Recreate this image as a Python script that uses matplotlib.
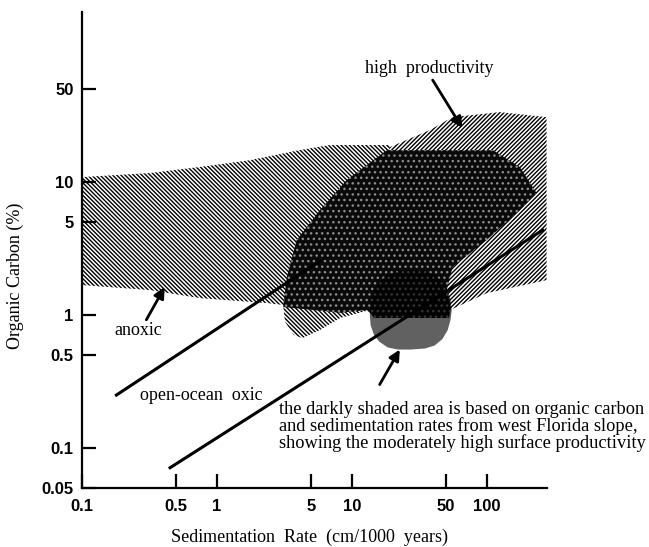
import matplotlib
matplotlib.use('Agg')
import matplotlib.pyplot as plt
from matplotlib.patches import Polygon

# tick values
x_ticks = [0.1, 0.5, 1, 5, 10, 50, 100]
x_tick_labels = ['0.1', '0.5', '1', '5', '10', '50', '100']
y_ticks = [0.05, 0.1, 0.5, 1, 5, 10, 50]
y_tick_labels = ['0.05', '0.1', '0.5', '1', '5', '10', '50']

# anoxic field (sed. rate, organic carbon %)
anoxic_x = [0.1, 0.32, 0.75, 1.75, 4.1, 6.9, 19, 32, 22.7, 13.6, 8.2, 5.8, 4.3, 3.7, 3.2, 3.1, 2.35, 0.75, 0.32, 0.1]
anoxic_y = [10.9, 11.7, 13.0, 14.6, 17.4, 19.0, 19.0, 7.3, 1.54, 1.09, 0.95, 0.77, 0.67, 0.71, 0.89, 1.19, 1.23, 1.34, 1.54, 1.68]

# high productivity field
hp_x = [19.1, 37.8, 56, 125, 278, 278, 100, 60, 48.8, 31.9, 22.7, 16.1]
hp_y = [18.3, 24.6, 30.8, 33.6, 30.8, 1.83, 1.46, 1.15, 1.05, 1.30, 3.08, 12.3]

# stippled core of high productivity
core_x = [18.2, 111, 176, 234, 176, 100, 56, 50.5, 53, 54, 52.5, 14.6, 13.9, 12.9, 8.2, 3.1, 3.3, 3.9, 5.8, 9.2]
core_y = [17.4, 17.4, 13.0, 8.3, 6.15, 3.66, 2.30, 1.54, 1.3, 1.09, 0.95, 0.95, 1.02, 1.09, 1.04, 1.15, 1.93, 3.66, 6.15, 10.4]

# west Florida slope (darkly shaded area)
florida_x = [27.4, 35, 41.2, 47, 51.4, 54, 55.1, 54, 51.4, 47, 41.2, 35, 27.4, 22, 18.5, 16, 14.6, 13.8, 13.6, 13.8, 14.6, 16, 18.5, 22]
florida_y = [2.18, 2.15, 2.0, 1.8, 1.54, 1.3, 1.09, 0.92, 0.77, 0.66, 0.59, 0.56, 0.55, 0.55, 0.57, 0.63, 0.71, 0.84, 1.0, 1.25, 1.54, 1.8, 2.0, 2.13]

# boundary lines
line1_x = [0.18, 5.8]
line1_y = [0.25, 2.55]
line2_x = [0.45, 260]
line2_y = [0.071, 4.35]

plt.rcParams['hatch.linewidth'] = 1.0
serif = 'Liberation Serif'

fig = plt.figure(figsize=(6.49, 5.47), dpi=100)
ax = fig.add_axes([0.1263, 0.1079, 0.7165, 0.870])
ax.set_xscale('log')
ax.set_yscale('log')
ax.set_xlim(0.1, 280)
ax.set_ylim(0.05, 190)

ax.add_patch(Polygon(list(zip(anoxic_x, anoxic_y)), closed=True, facecolor='white',
                     edgecolor='black', hatch='\\' * 8, linewidth=0, zorder=1))
ax.add_patch(Polygon(list(zip(hp_x, hp_y)), closed=True, facecolor='white',
                     edgecolor='black', hatch='/' * 8, linewidth=0, zorder=1.1))
ax.add_patch(Polygon(list(zip(core_x, core_y)), closed=True, facecolor='#0a0a0a',
                     edgecolor='#8c8c8c', hatch='...', linewidth=0, zorder=1.2))
ax.add_patch(Polygon(list(zip(florida_x, florida_y)), closed=True, facecolor='black',
                     alpha=0.62, linewidth=0, zorder=1.3))

ax.plot(line1_x, line1_y, color='black', lw=2.2, zorder=2)
ax.plot(line2_x, line2_y, color='black', lw=2.2, zorder=2)

arrow = dict(arrowstyle='-|>', color='black', lw=2, mutation_scale=16, shrinkA=0, shrinkB=0)
ax.annotate('', xy=(66, 25.5), xytext=(39.8, 58.5), arrowprops=arrow, zorder=3)
ax.annotate('', xy=(0.41, 1.62), xytext=(0.30, 0.92), arrowprops=arrow, zorder=3)
ax.annotate('', xy=(22.7, 0.55), xytext=(16.1, 0.30), arrowprops=arrow, zorder=3)

ax.text(37.8, 72, 'high  productivity', family=serif, fontsize=13,
        ha='center', va='center')
ax.text(0.26, 0.77, 'anoxic', family=serif, fontsize=13,
        ha='center', va='center')
ax.text(0.77, 0.25, 'open-ocean  oxic', family=serif, fontsize=13,
        ha='center', va='center')
ax.text(2.88, 0.146, 'the darkly shaded area is based on organic carbon\n'
        'and sedimentation rates from west Florida slope,\n'
        'showing the moderately high surface productivity',
        family=serif, fontsize=13.2, ha='left', va='center', linespacing=0.93,
        clip_on=False)

for s in ['top', 'right']:
    ax.spines[s].set_visible(False)
for s in ['left', 'bottom']:
    ax.spines[s].set_linewidth(1.6)

ax.minorticks_off()
ax.set_xticks(x_ticks)
ax.set_xticklabels(x_tick_labels)
ax.set_yticks(y_ticks)
ax.set_yticklabels(y_tick_labels)
ax.tick_params(direction='in', length=10, width=1.6, labelsize=12)
ax.tick_params(axis='x', pad=8)
ax.tick_params(axis='y', pad=6)
for lab in ax.get_xticklabels() + ax.get_yticklabels():
    lab.set_fontweight('bold')
    lab.set_family('Liberation Sans')

fig.text(0.023, 0.495, 'Organic Carbon (%)', family=serif, fontsize=13,
         rotation=90, ha='center', va='center')
fig.text(0.477, 0.017, 'Sedimentation  Rate  (cm/1000  years)', family=serif,
         fontsize=13, ha='center', va='center')

fig.savefig('out.png', dpi=100)
